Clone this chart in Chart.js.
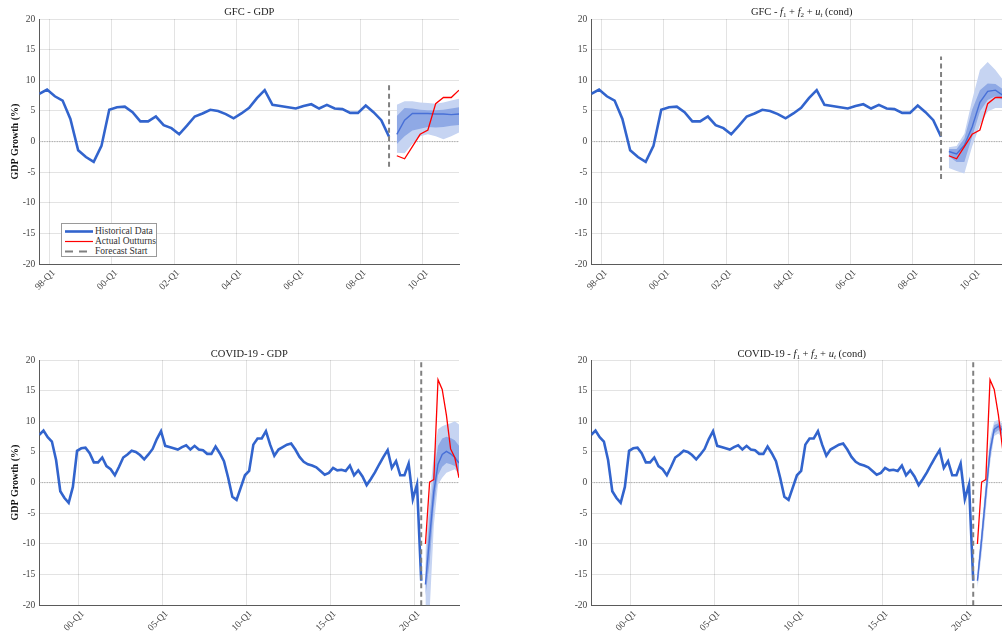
<!DOCTYPE html>
<html>
<head>
<meta charset="utf-8">
<script src="https://cdn.jsdelivr.net/npm/chart.js@4.4.1/dist/chart.umd.min.js"></script>
<style>
  html, body { margin: 0; padding: 0; background: #fff; overflow: hidden; width: 1002px; height: 637px; }
  body { position: relative; font-family: "Liberation Serif", "Times New Roman", serif; }
  canvas { position: absolute; }
  .ttl { position: absolute; width: 420px; text-align: center; font-size: 10.5px; color: #222; line-height: 12px; white-space: nowrap; }
  .ttl sub { font-size: 7px; vertical-align: -2px; line-height: 0; }
  .legend { position: absolute; left: 61px; top: 223px; width: 96px; height: 34px; border: 1px solid #9a9a9a; background: #fff; box-sizing: border-box; font-size: 9.5px; color: #333; }
  .legend .row { position: absolute; left: 0; height: 11px; line-height: 11px; width: 100%; }
  .legend svg { position: absolute; left: 3px; top: 0; }
  .legend span { position: absolute; left: 33px; top: 0; white-space: nowrap; }
</style>
</head>
<body>
<canvas id="gfc" width="470" height="300" style="left:0;top:0"></canvas>
<canvas id="gfcCond" width="470" height="300" style="left:552.4px;top:0"></canvas>
<canvas id="covid" width="470" height="300" style="left:0;top:341.3px"></canvas>
<canvas id="covidCond" width="470" height="300" style="left:552.4px;top:341.3px"></canvas>

<div class="ttl" style="left:39.3px;top:6px">GFC - GDP</div>
<div class="ttl" style="left:591.7px;top:6px">GFC - <i>f</i><sub>1</sub> + <i>f</i><sub>2</sub> + <i>u</i><sub><i>t</i></sub> (cond)</div>
<div class="ttl" style="left:39.3px;top:347.5px">COVID-19 - GDP</div>
<div class="ttl" style="left:591.7px;top:347.5px">COVID-19 - <i>f</i><sub>1</sub> + <i>f</i><sub>2</sub> + <i>u</i><sub><i>t</i></sub> (cond)</div>

<div class="legend">
  <div class="row" style="top:1.5px"><svg width="28" height="11"><line x1="0" y1="5.5" x2="28" y2="5.5" stroke="rgb(50,100,205)" stroke-width="2.6"/></svg><span>Historical Data</span></div>
  <div class="row" style="top:11.5px"><svg width="28" height="11"><line x1="0" y1="5.5" x2="28" y2="5.5" stroke="#ff0000" stroke-width="1.2"/></svg><span>Actual Outturns</span></div>
  <div class="row" style="top:21.5px"><svg width="28" height="11"><line x1="0" y1="5.5" x2="28" y2="5.5" stroke="#808080" stroke-width="2" stroke-dasharray="8,6"/></svg><span>Forecast Start</span></div>
</div>

<script>
// quarterly GDP growth, index 0 = first quarter shown
const histGDP = [
  7.8, 8.5, 7.4, 6.7, 3.7, -1.4, -2.5, -3.3, -0.7, 5.2,
  5.6, 5.7, 4.8, 3.3, 3.3, 4.1, 2.7, 2.2, 1.2, 2.6,
  4.1, 4.6, 5.2, 5.0, 4.5, 3.8, 4.6, 5.5, 7.1, 8.4,
  6.0, 5.8, 5.6, 5.4, 5.8, 6.1, 5.4, 6.0, 5.4, 5.3,
  4.7, 4.7, 5.9, 4.8, 3.5, 0.8, -2.3, -2.8, -0.8, 1.2,
  1.9, 6.2, 7.2, 7.2, 8.4, 6.2, 4.4, 5.4, 5.8, 6.2,
  6.4, 5.4, 4.2, 3.4, 3.0, 2.8, 2.5, 1.9, 1.3, 1.6,
  2.4, 2.0, 2.1, 1.9, 2.8, 1.2, 2.0, 1.0, -0.4, 0.6,
  1.7, 3.0, 4.2, 5.3, 2.4, 3.5, 1.2, 1.2, 3.1, -2.7,
  -0.3, -16.0
];

const gfcStart = 45;    // last quarter before forecast
const covidStart = 91;

const gfcOutturn = histGDP.slice(46, 55);
const covidOutturn = [-10.0, 0.1, 0.5, 16.8, 15.2, 11.0, 5.5, 4.1, 0.8];

// GFC unconditional fan
const gfcMed   = [1.2, 3.5, 4.6, 4.6, 4.6, 4.5, 4.5, 4.4, 4.5];
const gfcInLo  = [-0.4, 0.9, 1.8, 2.1, 2.4, 2.3, 2.4, 2.6, 2.7];
const gfcInHi  = [4.2, 5.5, 5.4, 5.2, 5.1, 5.1, 5.2, 5.4, 5.6];
const gfcOutLo = [-1.8, -1.9, -0.4, 0.9, 1.2, 0.9, 0.4, 0.9, 1.5];
const gfcOutHi = [6.0, 6.6, 6.6, 6.4, 6.3, 6.2, 6.4, 6.7, 7.0];

// GFC conditional fan
const gfcCMed   = [-1.6, -2.0, -0.6, 2.4, 6.4, 8.2, 8.4, 7.5, 6.8];
const gfcCInLo  = [-2.4, -3.3, -3.3, 0.8, 4.9, 6.8, 7.4, 6.8, 6.2];
const gfcCInHi  = [-1.2, -1.2, 0.5, 5.2, 8.4, 9.5, 9.4, 8.5, 8.0];
const gfcCOutLo = [-4.3, -4.8, -5.2, -0.8, 2.7, 4.9, 5.5, 5.5, 5.0];
const gfcCOutHi = [-0.9, -0.7, 1.3, 6.8, 11.7, 13.0, 11.7, 10.0, 9.0];

// COVID unconditional fan
const covMed   = [-16.6, -9.0, -1.5, 3.0, 4.6, 5.1, 4.7, 4.1, 3.2];
const covInLo  = [-18.5, -13.0, -4.0, 1.2, 2.6, 3.2, 3.0, 2.7, 1.8];
const covInHi  = [-14.0, -5.5, 1.5, 6.0, 7.2, 7.5, 7.3, 6.9, 6.0];
const covOutLo = [-22.0, -21.0, -7.0, -0.3, 0.8, 1.6, 1.9, 2.2, 1.4];
const covOutHi = [-11.0, -2.5, 4.6, 8.7, 9.2, 9.5, 9.7, 10.0, 9.5];

// COVID conditional fan
const covCMed   = [-16.0, -9.2, -1.9, 5.1, 8.7, 9.2, 8.5, 7.8, 7.0];
const covCInLo  = [-16.7, -10.5, -3.2, 4.0, 8.0, 8.6, 7.8, 7.0, 6.3];
const covCInHi  = [-15.2, -8.0, -0.6, 6.2, 9.4, 9.7, 9.1, 8.5, 7.6];
const covCOutLo = [-17.3, -11.7, -4.6, 3.0, 7.6, 8.0, 7.3, 6.5, 5.8];
const covCOutHi = [-14.3, -7.3, 0.3, 7.2, 10.0, 10.2, 9.6, 9.0, 8.2];

// dashed forecast-start line extent
const gfcMarkRange = [-4.1, 9.4];
const gfcCondMarkRange = [-6.1, 13.9];
const covidMarkRange = [-20, 20];

const gfcTickPos = [1.35, 9.35, 17.35, 25.35, 33.35, 41.35, 49.35];
const gfcTickLabels = ['98-Q1', '00-Q1', '02-Q1', '04-Q1', '06-Q1', '08-Q1', '10-Q1'];
const covidTickPos = [9.4, 29.4, 49.4, 69.4, 89.4];
const covidTickLabels = ['00-Q1', '05-Q1', '10-Q1', '15-Q1', '20-Q1'];

const serif = "'Liberation Serif', 'Times New Roman', serif";
const blue = 'rgb(50,100,205)';

function pts(start, arr) {
  return arr.map((v, k) => ({ x: start + k, y: v }));
}

function makePanel(id, p) {
  const fs = p.start + 1;
  new Chart(document.getElementById(id), {
    type: 'line',
    data: {
      datasets: [
        { data: pts(fs, p.outHi), fill: 1, backgroundColor: 'rgb(198,212,242)', borderWidth: 0, pointRadius: 0, order: 8 },
        { data: pts(fs, p.outLo), fill: false, borderWidth: 0, pointRadius: 0, order: 8 },
        { data: pts(fs, p.inHi), fill: 3, backgroundColor: 'rgb(143,169,229)', borderWidth: 0, pointRadius: 0, order: 7 },
        { data: pts(fs, p.inLo), fill: false, borderWidth: 0, pointRadius: 0, order: 7 },
        { data: pts(fs, p.med), borderColor: 'rgb(72,112,215)', borderWidth: 1.4, pointRadius: 0, order: 6 },
        { data: pts(0, p.hist), borderColor: blue, borderWidth: 2.6, pointRadius: 0, order: 5 },
        { data: [{ x: p.start, y: p.mark[0] }, { x: p.start, y: p.mark[1] }], borderColor: '#808080', borderWidth: 2, borderDash: [5, 3.5], pointRadius: 0, order: 4 },
        { data: pts(fs, p.outturn), borderColor: '#ff0000', borderWidth: 1.3, pointRadius: 0, order: 3 },
        { data: [{ x: 0, y: 0 }, { x: p.xMax, y: 0 }], borderColor: '#8c8c8c', borderWidth: 0.8, borderDash: [1, 1.5], pointRadius: 0, order: 9 }
      ]
    },
    options: {
      responsive: false,
      animation: false,
      devicePixelRatio: 1,
      layout: { padding: { top: 19, right: 11, left: 0, bottom: 0 } },
      plugins: { legend: { display: false }, tooltip: { enabled: false } },
      scales: {
        x: {
          type: 'linear', min: 0, max: p.xMax,
          afterBuildTicks: s => { s.ticks = p.tickPos.map(v => ({ value: v })); },
          afterFit: s => { s.height = 35.7; },
          ticks: {
            autoSkip: false, minRotation: 45, maxRotation: 45, padding: 3, labelOffset: 4,
            color: '#444', font: { family: serif, size: 9.5 },
            callback: (v, i) => p.tickLabels[i]
          },
          grid: { color: 'rgba(0,0,0,0.11)', drawTicks: false },
          border: { color: '#5a5a5a', width: 1 }
        },
        y: {
          min: -20, max: 20,
          afterFit: s => { s.width = 39.3; },
          ticks: { stepSize: 5, padding: 4, color: '#444', font: { family: serif, size: 9.5 } },
          title: { display: p.yTitle, text: 'GDP Growth (%)', color: '#111', font: { family: serif, size: 10, weight: 'bold' }, padding: { top: 9, bottom: 0 } },
          grid: { color: 'rgba(0,0,0,0.11)', drawTicks: false },
          border: { color: '#5a5a5a', width: 1 }
        }
      }
    }
  });
}

makePanel('gfc', {
  hist: histGDP.slice(0, 46), start: gfcStart, xMax: 54, mark: gfcMarkRange,
  outturn: gfcOutturn, med: gfcMed, inLo: gfcInLo, inHi: gfcInHi, outLo: gfcOutLo, outHi: gfcOutHi,
  tickPos: gfcTickPos, tickLabels: gfcTickLabels, yTitle: true
});
makePanel('gfcCond', {
  hist: histGDP.slice(0, 46), start: gfcStart, xMax: 54, mark: gfcCondMarkRange,
  outturn: gfcOutturn, med: gfcCMed, inLo: gfcCInLo, inHi: gfcCInHi, outLo: gfcCOutLo, outHi: gfcCOutHi,
  tickPos: gfcTickPos, tickLabels: gfcTickLabels, yTitle: false
});
makePanel('covid', {
  hist: histGDP, start: covidStart, xMax: 100, mark: covidMarkRange,
  outturn: covidOutturn, med: covMed, inLo: covInLo, inHi: covInHi, outLo: covOutLo, outHi: covOutHi,
  tickPos: covidTickPos, tickLabels: covidTickLabels, yTitle: true
});
makePanel('covidCond', {
  hist: histGDP, start: covidStart, xMax: 100, mark: covidMarkRange,
  outturn: covidOutturn, med: covCMed, inLo: covCInLo, inHi: covCInHi, outLo: covCOutLo, outHi: covCOutHi,
  tickPos: covidTickPos, tickLabels: covidTickLabels, yTitle: false
});
</script>
</body>
</html>
